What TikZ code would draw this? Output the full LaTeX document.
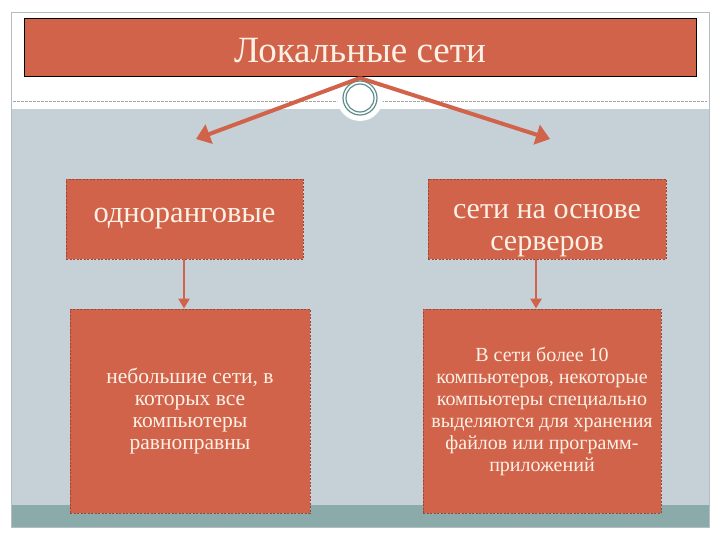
\documentclass[tikz,border=0pt]{standalone}
\usepackage{fontspec}
\setmainfont{Liberation Serif}
\usetikzlibrary{arrows.meta}
\definecolor{boxred}{HTML}{D1634A}
\definecolor{boxedge}{HTML}{9C4636}
\definecolor{bggray}{HTML}{C5D1D7}
\definecolor{teal}{HTML}{8AABA9}
\definecolor{framegray}{HTML}{B4BEC2}
\definecolor{ring}{HTML}{5F8C8B}
\definecolor{txt}{HTML}{FDF1E6}
\tikzset{
  redbox/.style={draw=boxedge, dashed, dash pattern=on 2pt off 1.5pt, line width=0.8pt, fill=boxred, text=txt, align=center, inner sep=0pt},
  bigarrow/.style={draw=boxred, line width=4pt, -{Triangle[length=14pt,width=20pt]}},
  smallarrow/.style={draw=boxred, line width=2.5pt, -{Triangle[length=10pt,width=11pt]}}
}
\begin{document}
\begin{tikzpicture}[x=1pt,y=-1pt]
\useasboundingbox (0,0) rectangle (720,540);
\fill[white] (0,0) rectangle (720,540);
% background
\fill[bggray] (11,109) rectangle (709,505);
\fill[teal] (11,505) rectangle (709,527);
\draw[framegray, line width=0.8pt] (11,12) rectangle (709,527);
\draw[gray!70, dashed, dash pattern=on 2.5pt off 1.5pt, line width=0.6pt] (13,101) -- (707,101);
% circle ornament
\fill[white] (360,98) circle (23);
\draw[ring, line width=1.2pt] (360,98) circle (17);
\draw[ring, line width=1.2pt] (360,98) circle (14);
% title
\node[draw=black, line width=1pt, fill=boxred, minimum width=672pt, minimum height=58pt, inner sep=0pt] (title) at (360,48) {};
\node[text=txt, font=\fontsize{37}{42}\selectfont, inner sep=0pt] (titletext) at (360,51) {Локальные сети};
\coordinate (top) at (360,78);
\coordinate (la) at (196,139);
\coordinate (ra) at (550,139);
\draw[bigarrow] (top) -- (la);
\draw[bigarrow] (top) -- (ra);
% level 1
\node[redbox, minimum width=237pt, minimum height=80pt, font=\fontsize{30.5}{32}\selectfont] (l1) at (184.5,219) {одноранговые};
\node[redbox, minimum width=238pt, minimum height=80pt, font=\fontsize{30}{32}\selectfont, text depth=0pt] (r1) at (547,219) {\raisebox{-3pt}{\parbox{230pt}{\centering сети на основе\\серверов}}};
% level 2
\node[redbox, minimum width=240pt, minimum height=204pt, font=\fontsize{21.5}{22}\selectfont] (l2) at (190,411) {небольшие сети, в\\которых все\\компьютеры\\равноправны};
\node[redbox, minimum width=238pt, minimum height=204pt, font=\fontsize{20}{22}\selectfont] (r2) at (542,411) {В сети более 10\\компьютеров, некоторые\\компьютеры специально\\выделяются для хранения\\файлов или программ-\\приложений};
\draw[smallarrow] (l1.south -| 184,0) -- (l2.north -| 184,0);
\draw[smallarrow] (r1.south -| 536,0) -- (r2.north -| 536,0);
\end{tikzpicture}
\end{document}
